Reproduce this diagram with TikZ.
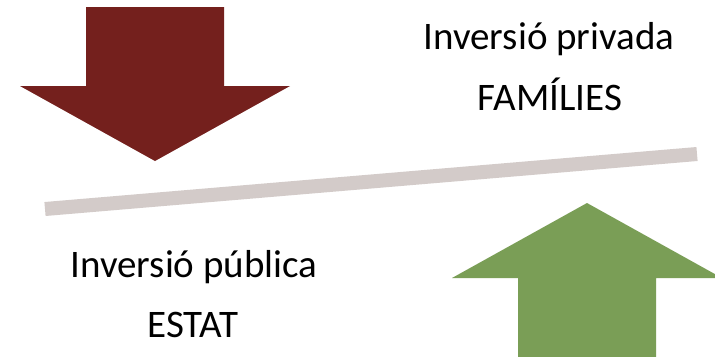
\documentclass[tikz,border=0pt]{standalone}
\usepackage{fontspec}
\setmainfont{Carlito}
\usepackage{xcolor}
\usepackage{tikz}
\definecolor{vermell}{HTML}{74201D}
\definecolor{verd}{HTML}{7A9E56}
\definecolor{gris}{HTML}{D3CBC9}
\tikzstyle{etiqueta} = [anchor=base, inner sep=0pt, text=black, font=\fontsize{22.2pt}{26pt}\selectfont]
\tikzstyle{baixada} = [fill=vermell]
\tikzstyle{pujada} = [fill=verd]
\tikzstyle{balanca} = [draw=gris, line width=0.28cm, line cap=butt]

\begin{document}
\begin{tikzpicture}[x=0.02cm, y=-0.02cm]
			\clip (0,0) rectangle (715,356);
			\fill[white] (0,0) rectangle (715,356);
			%fletxes
			\fill [baixada] (86,7) -- (224,7) -- (224,86) -- (290,86) -- (155,161) -- (20,86) -- (86,86) -- cycle;
			\fill [pujada] (518,360) -- (518,278) -- (452,278) -- (587,203) -- (722,278) -- (656,278) -- (656,360) -- cycle;
			%barra
			\coordinate (esq) at (45,209);
			\coordinate (dre) at (697,154);
			\draw [balanca] (esq) -- (dre);
			%textos
			\node (privada) [etiqueta] at (549,49) {Inversió privada};
			\node (families) [etiqueta] at (550,110) {FAMÍLIES};
			\node (publica) [etiqueta] at (194,277) {Inversió pública};
			\node (estat) [etiqueta] at (193,337) {ESTAT};
		\end{tikzpicture}
\end{document}
